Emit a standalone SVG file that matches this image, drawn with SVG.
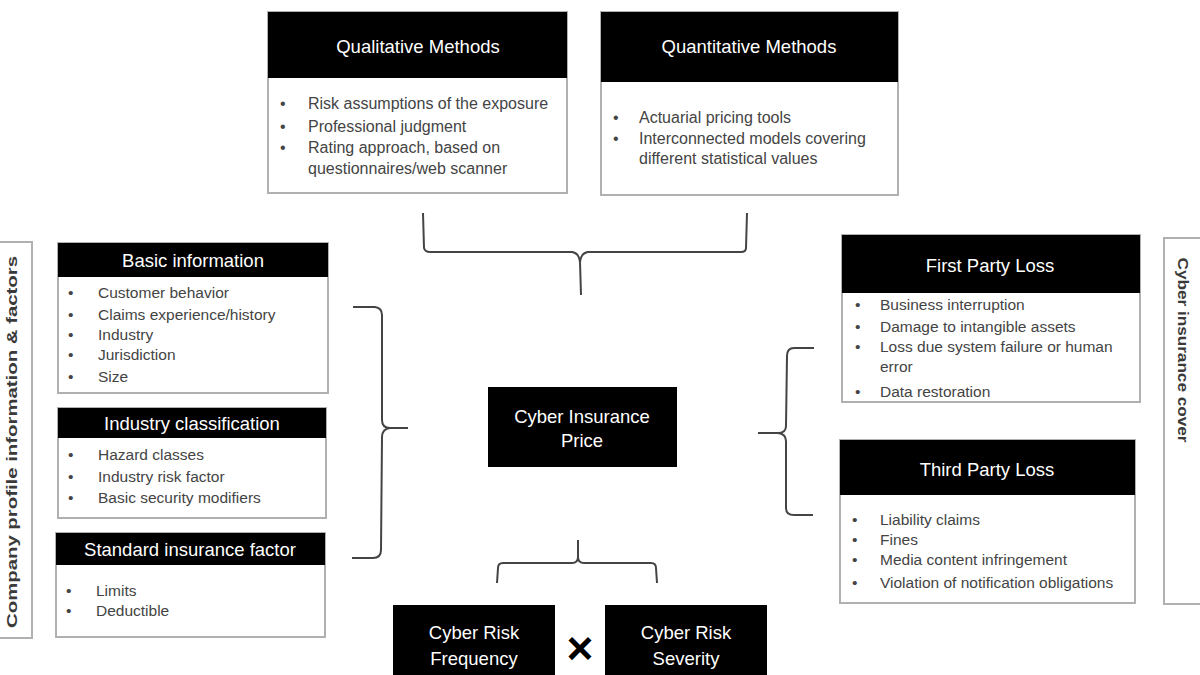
<svg xmlns="http://www.w3.org/2000/svg" width="1200" height="675" viewBox="0 0 1200 675">
<style>
.body{fill:#fff;stroke:#b0b0b0;stroke-width:2}
.hdr{fill:#000}
.ht{font-family:"Liberation Sans",Arial,sans-serif;font-size:18.5px;fill:#fff;text-anchor:middle}
.bt{font-family:"Liberation Sans",Arial,sans-serif;font-size:15.5px;fill:#444}
.bt15{font-family:"Liberation Sans",Arial,sans-serif;font-size:16px;fill:#444}
.side{font-family:"Liberation Sans",Arial,sans-serif;font-size:14px;font-weight:bold;fill:#3a3a3a;text-anchor:middle}
.br{fill:none;stroke:#444;stroke-width:2;stroke-linejoin:round}
</style>
<rect width="1200" height="675" fill="#fff"/>

<g id="side-left">
<rect x="-2" y="242" width="34" height="396" class="body"/>
<text class="side" transform="translate(17,442) rotate(-90)" textLength="372" lengthAdjust="spacingAndGlyphs">Company profile information &amp; factors</text>
</g>

<g id="side-right">
<rect x="1164" y="238" width="42" height="366" class="body"/>
<text class="side" transform="translate(1178,350) rotate(90)" textLength="185" lengthAdjust="spacingAndGlyphs">Cyber insurance cover</text>
</g>

<g id="qualitative">
<rect x="268" y="12" width="299" height="181" class="body"/>
<rect x="268" y="12" width="299" height="66" class="hdr"/>
<text class="ht" x="418" y="53">Qualitative Methods</text>
<g class="bt15">
<text x="280" y="109">•</text><text x="308" y="109">Risk assumptions of the exposure</text>
<text x="280" y="132">•</text><text x="308" y="132">Professional judgment</text>
<text x="280" y="153">•</text><text x="308" y="153">Rating approach, based on</text>
<text x="308" y="174">questionnaires/web scanner</text>
</g>
</g>

<g id="quantitative">
<rect x="601" y="12" width="297" height="183" class="body"/>
<rect x="601" y="12" width="297" height="70" class="hdr"/>
<text class="ht" x="749" y="53">Quantitative Methods</text>
<g class="bt15">
<text x="613" y="123">•</text><text x="639" y="123">Actuarial pricing tools</text>
<text x="613" y="144">•</text><text x="639" y="144">Interconnected  models covering</text>
<text x="639" y="164">different statistical values</text>
</g>
</g>

<g id="basic-information">
<rect x="58" y="243" width="270" height="150" class="body"/>
<rect x="58" y="243" width="270" height="34" class="hdr"/>
<text class="ht" x="193" y="267">Basic information</text>
<g class="bt">
<text x="68" y="298">•</text><text x="98" y="298">Customer behavior</text>
<text x="68" y="320">•</text><text x="98" y="320">Claims experience/history</text>
<text x="68" y="340">•</text><text x="98" y="340">Industry</text>
<text x="68" y="360">•</text><text x="98" y="360">Jurisdiction</text>
<text x="68" y="382">•</text><text x="98" y="382">Size</text>
</g>
</g>

<g id="industry-classification">
<rect x="58" y="408" width="268" height="110" class="body"/>
<rect x="58" y="408" width="268" height="30" class="hdr"/>
<text class="ht" x="192" y="430">Industry classification</text>
<g class="bt">
<text x="68" y="460">•</text><text x="98" y="460">Hazard classes</text>
<text x="68" y="482">•</text><text x="98" y="482">Industry  risk factor</text>
<text x="68" y="503">•</text><text x="98" y="503">Basic security  modifiers</text>
</g>
</g>

<g id="standard-insurance-factor">
<rect x="56" y="533" width="269" height="104" class="body"/>
<rect x="56" y="533" width="269" height="32" class="hdr"/>
<text class="ht" x="190" y="556">Standard insurance factor</text>
<g class="bt">
<text x="66" y="596">•</text><text x="96" y="596">Limits</text>
<text x="66" y="616">•</text><text x="96" y="616">Deductible</text>
</g>
</g>

<g id="cyber-insurance-price">
<rect x="488" y="387" width="189" height="80" class="hdr"/>
<text class="ht" x="582" y="423">Cyber Insurance</text>
<text class="ht" x="582" y="447">Price</text>
</g>

<g id="first-party-loss">
<rect x="842" y="235" width="298" height="167" class="body"/>
<rect x="842" y="235" width="298" height="58" class="hdr"/>
<text class="ht" x="990" y="272">First Party Loss</text>
<g class="bt">
<text x="855" y="310">•</text><text x="880" y="310">Business interruption</text>
<text x="855" y="332">•</text><text x="880" y="332">Damage to intangible assets</text>
<text x="855" y="352">•</text><text x="880" y="352">Loss due system failure or human</text>
<text x="880" y="372">error</text>
<text x="855" y="397">•</text><text x="880" y="397">Data restoration</text>
</g>
</g>

<g id="third-party-loss">
<rect x="840" y="440" width="295" height="163" class="body"/>
<rect x="840" y="440" width="295" height="55" class="hdr"/>
<text class="ht" x="987" y="476">Third Party Loss</text>
<g class="bt">
<text x="852" y="525">•</text><text x="880" y="525">Liability claims</text>
<text x="852" y="545">•</text><text x="880" y="545">Fines</text>
<text x="852" y="565">•</text><text x="880" y="565">Media content infringement</text>
<text x="852" y="588">•</text><text x="880" y="588">Violation of notification obligations</text>
</g>
</g>

<g id="cyber-risk-frequency">
<rect x="393" y="605" width="162" height="75" class="hdr"/>
<text class="ht" x="474" y="639">Cyber Risk</text>
<text class="ht" x="474" y="665">Frequency</text>
</g>

<g id="cyber-risk-severity">
<rect x="605" y="605" width="162" height="75" class="hdr"/>
<text class="ht" x="686" y="639">Cyber Risk</text>
<text class="ht" x="686" y="665">Severity</text>
</g>

<g id="times">
<text x="580" y="664" font-family="Liberation Sans,Arial,sans-serif" font-size="46" font-weight="bold" text-anchor="middle" fill="#000">×</text>
</g>

<g id="connectors">
<path class="br" d="M423,213 L424,248 Q425,252 430,252 L572,252 Q579,253 580,262 L581,295 M580,262 Q581,253 588,252 L741,252 Q746,252 746,248 L747,213"/>
<path class="br" d="M353,307 L375,307 Q382,308 382,315 L382,420 Q382,428 390,428 L408,428 M390,428 Q382,429 382,437 L381,550 Q381,558 373,558 L352,558"/>
<path class="br" d="M814,348 L794,348 Q787,348 787,356 L786,426 Q786,433 778,433 L758,433 M778,433 Q786,434 786,441 L786,508 Q786,515 794,515 L813,515"/>
<path class="br" d="M578,540 L578,557 Q578,563 572,563 L503,563 Q498,563 498,568 L497,583 M578,557 Q578,563 584,563 L651,563 Q656,563 656,568 L657,583"/>
</g>
</svg>
